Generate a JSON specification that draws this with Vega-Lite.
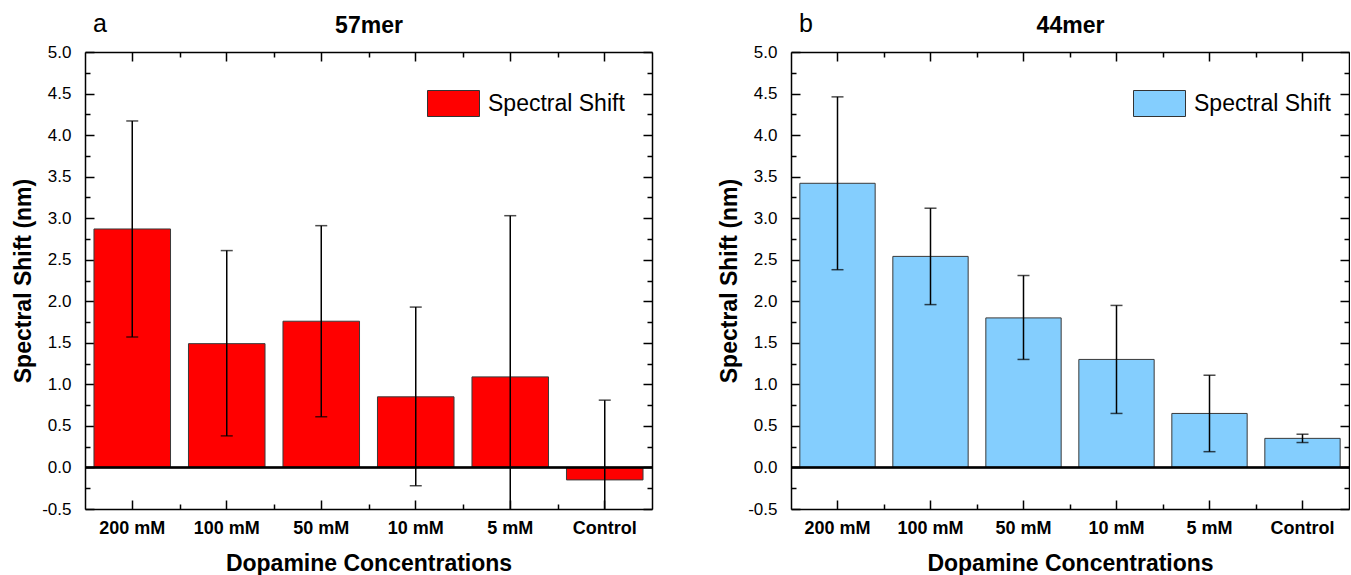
{
  "$schema": "https://vega.github.io/schema/vega-lite/v6.json",
  "padding": {"left": 12, "top": 12, "right": 0, "bottom": 0},
  "background": "white",
  "config": {
    "view": {"stroke": null},
    "font": "Liberation Sans",
    "axis": {"grid": false, "labelFont": "Liberation Sans", "titleFont": "Liberation Sans", "labelColor": "black", "titleColor": "black", "tickColor": "black", "domainColor": "black"},
    "legend": {"labelFont": "Liberation Sans"}
  },
  "bounds": "flush",
  "spacing": 139,
  "resolve": {"scale": {"color": "independent"}, "legend": {"color": "independent"}},
  "hconcat": [
    {
      "width": 567,
      "height": 457,
      "title": {"text": "a", "anchor": "start", "frame": "group", "fontSize": 25, "fontWeight": "normal", "font": "Liberation Sans", "color": "black", "dx": 8, "dy": 27},
      "data": {"values": [
        {"conc": "200 mM", "shift": 2.87, "lo": 1.57, "hi": 4.17, "series": "Spectral Shift"},
        {"conc": "100 mM", "shift": 1.49, "lo": 0.38, "hi": 2.61, "series": "Spectral Shift"},
        {"conc": "50 mM", "shift": 1.76, "lo": 0.61, "hi": 2.91, "series": "Spectral Shift"},
        {"conc": "10 mM", "shift": 0.85, "lo": -0.22, "hi": 1.93, "series": "Spectral Shift"},
        {"conc": "5 mM", "shift": 1.09, "lo": -0.85, "hi": 3.03, "series": "Spectral Shift"},
        {"conc": "Control", "shift": -0.15, "lo": -1.11, "hi": 0.81, "series": "Spectral Shift"}
      ]},
      "resolve": {"axis": {"x": "independent", "y": "independent"}},
      "layer": [
        {
          "mark": {"type": "bar", "stroke": "#3a3a3a", "strokeWidth": 1},
          "encoding": {
            "x": {"field": "conc", "type": "nominal", "sort": null, "scale": {"paddingInner": 0.19, "paddingOuter": 0.095},
              "axis": {"orient": "bottom", "title": "Dopamine Concentrations", "labelAngle": 0, "labelFontSize": 18, "labelFontWeight": "bold", "tickSize": -9, "tickWidth": 1.5, "domainWidth": 1.5, "labelPadding": 19, "titleFontSize": 23, "titleFontWeight": "bold", "titlePadding": 15}},
            "y": {"field": "shift", "type": "quantitative", "scale": {"domain": [-0.5, 5], "nice": false, "zero": false},
              "axis": {"orient": "left", "title": "Spectral Shift (nm)", "values": [-0.5, 0, 0.5, 1, 1.5, 2, 2.5, 3, 3.5, 4, 4.5, 5], "labelExpr": "datum.value < 0 ? '-' + format(-datum.value, '.1f') : format(datum.value, '.1f')", "labelFontSize": 17, "tickSize": -9, "tickWidth": 1.5, "domainWidth": 1.5, "labelPadding": 23, "titleFontSize": 23, "titleFontWeight": "bold", "titlePadding": 6}},
            "y2": {"datum": 0},
            "color": {"field": "series", "type": "nominal", "scale": {"range": ["#ff0000"]},
              "legend": {"title": null, "orient": "none", "legendX": 342, "legendY": 25, "symbolType": "M-1,-0.5H1V0.5H-1Z", "symbolSize": 2704, "symbolStrokeColor": "#333333", "symbolStrokeWidth": 1, "symbolOpacity": 1, "labelFontSize": 23, "labelColor": "black", "labelOffset": 8, "padding": 0}}
          }
        },
        {
          "mark": {"type": "rule", "color": "black", "strokeWidth": 1.5, "clip": true},
          "encoding": {
            "x": {"field": "conc", "type": "nominal", "sort": null,
              "axis": {"orient": "bottom", "title": null, "labels": false, "domain": false, "tickSize": -5, "tickWidth": 1.5, "tickOffset": 47.25, "values": ["200 mM", "100 mM", "50 mM", "10 mM", "5 mM"]}},
            "y": {"field": "lo", "type": "quantitative",
              "axis": {"orient": "left", "title": null, "labels": false, "domain": false, "tickSize": -5, "tickWidth": 1.5, "values": [-0.25, 0.25, 0.75, 1.25, 1.75, 2.25, 2.75, 3.25, 3.75, 4.25, 4.75]}},
            "y2": {"field": "hi"}
          }
        },
        {
          "mark": {"type": "tick", "color": "black", "thickness": 1.5, "size": 12, "clip": true},
          "encoding": {
            "x": {"field": "conc", "type": "nominal", "sort": null,
              "axis": {"orient": "top", "title": "57mer", "labels": false, "tickSize": -9, "tickWidth": 1.5, "domainWidth": 1.5, "titleFontSize": 23, "titleFontWeight": "bold", "titlePadding": 14}},
            "y": {"field": "hi", "type": "quantitative",
              "axis": {"orient": "right", "title": null, "labels": false, "tickSize": -9, "tickWidth": 1.5, "domainWidth": 1.5, "values": [-0.5, 0, 0.5, 1, 1.5, 2, 2.5, 3, 3.5, 4, 4.5, 5]}}
          }
        },
        {
          "mark": {"type": "tick", "color": "black", "thickness": 1.5, "size": 12, "clip": true},
          "encoding": {
            "x": {"field": "conc", "type": "nominal", "sort": null,
              "axis": {"orient": "top", "title": null, "labels": false, "domain": false, "tickSize": -5, "tickWidth": 1.5, "tickOffset": 47.25, "values": ["200 mM", "100 mM", "50 mM", "10 mM", "5 mM"]}},
            "y": {"field": "lo", "type": "quantitative",
              "axis": {"orient": "right", "title": null, "labels": false, "domain": false, "tickSize": -5, "tickWidth": 1.5, "values": [-0.25, 0.25, 0.75, 1.25, 1.75, 2.25, 2.75, 3.25, 3.75, 4.25, 4.75]}}
          }
        },
        {
          "mark": {"type": "rule", "color": "black", "strokeWidth": 1.5},
          "encoding": {"y": {"datum": 0, "axis": null}}
        }
      ]
    },
    {
      "width": 558,
      "height": 457,
      "title": {"text": "b", "anchor": "start", "frame": "group", "fontSize": 25, "fontWeight": "normal", "font": "Liberation Sans", "color": "black", "dx": 8, "dy": 27},
      "data": {"values": [
        {"conc": "200 mM", "shift": 3.42, "lo": 2.38, "hi": 4.46, "series": "Spectral Shift"},
        {"conc": "100 mM", "shift": 2.54, "lo": 1.96, "hi": 3.12, "series": "Spectral Shift"},
        {"conc": "50 mM", "shift": 1.80, "lo": 1.30, "hi": 2.31, "series": "Spectral Shift"},
        {"conc": "10 mM", "shift": 1.30, "lo": 0.65, "hi": 1.95, "series": "Spectral Shift"},
        {"conc": "5 mM", "shift": 0.65, "lo": 0.19, "hi": 1.11, "series": "Spectral Shift"},
        {"conc": "Control", "shift": 0.35, "lo": 0.30, "hi": 0.40, "series": "Spectral Shift"}
      ]},
      "resolve": {"axis": {"x": "independent", "y": "independent"}},
      "layer": [
        {
          "mark": {"type": "bar", "stroke": "#3a3a3a", "strokeWidth": 1},
          "encoding": {
            "x": {"field": "conc", "type": "nominal", "sort": null, "scale": {"paddingInner": 0.19, "paddingOuter": 0.095},
              "axis": {"orient": "bottom", "title": "Dopamine Concentrations", "labelAngle": 0, "labelFontSize": 18, "labelFontWeight": "bold", "tickSize": -9, "tickWidth": 1.5, "domainWidth": 1.5, "labelPadding": 19, "titleFontSize": 23, "titleFontWeight": "bold", "titlePadding": 15}},
            "y": {"field": "shift", "type": "quantitative", "scale": {"domain": [-0.5, 5], "nice": false, "zero": false},
              "axis": {"orient": "left", "title": "Spectral Shift (nm)", "values": [-0.5, 0, 0.5, 1, 1.5, 2, 2.5, 3, 3.5, 4, 4.5, 5], "labelExpr": "datum.value < 0 ? '-' + format(-datum.value, '.1f') : format(datum.value, '.1f')", "labelFontSize": 17, "tickSize": -9, "tickWidth": 1.5, "domainWidth": 1.5, "labelPadding": 23, "titleFontSize": 23, "titleFontWeight": "bold", "titlePadding": 6}},
            "y2": {"datum": 0},
            "color": {"field": "series", "type": "nominal", "scale": {"range": ["#84cefe"]},
              "legend": {"title": null, "orient": "none", "legendX": 342, "legendY": 25, "symbolType": "M-1,-0.5H1V0.5H-1Z", "symbolSize": 2704, "symbolStrokeColor": "#333333", "symbolStrokeWidth": 1, "symbolOpacity": 1, "labelFontSize": 23, "labelColor": "black", "labelOffset": 8, "padding": 0}}
          }
        },
        {
          "mark": {"type": "rule", "color": "black", "strokeWidth": 1.5, "clip": true},
          "encoding": {
            "x": {"field": "conc", "type": "nominal", "sort": null,
              "axis": {"orient": "bottom", "title": null, "labels": false, "domain": false, "tickSize": -5, "tickWidth": 1.5, "tickOffset": 46.5, "values": ["200 mM", "100 mM", "50 mM", "10 mM", "5 mM"]}},
            "y": {"field": "lo", "type": "quantitative",
              "axis": {"orient": "left", "title": null, "labels": false, "domain": false, "tickSize": -5, "tickWidth": 1.5, "values": [-0.25, 0.25, 0.75, 1.25, 1.75, 2.25, 2.75, 3.25, 3.75, 4.25, 4.75]}},
            "y2": {"field": "hi"}
          }
        },
        {
          "mark": {"type": "tick", "color": "black", "thickness": 1.5, "size": 12, "clip": true},
          "encoding": {
            "x": {"field": "conc", "type": "nominal", "sort": null,
              "axis": {"orient": "top", "title": "44mer", "labels": false, "tickSize": -9, "tickWidth": 1.5, "domainWidth": 1.5, "titleFontSize": 23, "titleFontWeight": "bold", "titlePadding": 14}},
            "y": {"field": "hi", "type": "quantitative",
              "axis": {"orient": "right", "title": null, "labels": false, "tickSize": -9, "tickWidth": 1.5, "domainWidth": 1.5, "values": [-0.5, 0, 0.5, 1, 1.5, 2, 2.5, 3, 3.5, 4, 4.5, 5]}}
          }
        },
        {
          "mark": {"type": "tick", "color": "black", "thickness": 1.5, "size": 12, "clip": true},
          "encoding": {
            "x": {"field": "conc", "type": "nominal", "sort": null,
              "axis": {"orient": "top", "title": null, "labels": false, "domain": false, "tickSize": -5, "tickWidth": 1.5, "tickOffset": 46.5, "values": ["200 mM", "100 mM", "50 mM", "10 mM", "5 mM"]}},
            "y": {"field": "lo", "type": "quantitative",
              "axis": {"orient": "right", "title": null, "labels": false, "domain": false, "tickSize": -5, "tickWidth": 1.5, "values": [-0.25, 0.25, 0.75, 1.25, 1.75, 2.25, 2.75, 3.25, 3.75, 4.25, 4.75]}}
          }
        },
        {
          "mark": {"type": "rule", "color": "black", "strokeWidth": 1.5},
          "encoding": {"y": {"datum": 0, "axis": null}}
        }
      ]
    }
  ]
}
